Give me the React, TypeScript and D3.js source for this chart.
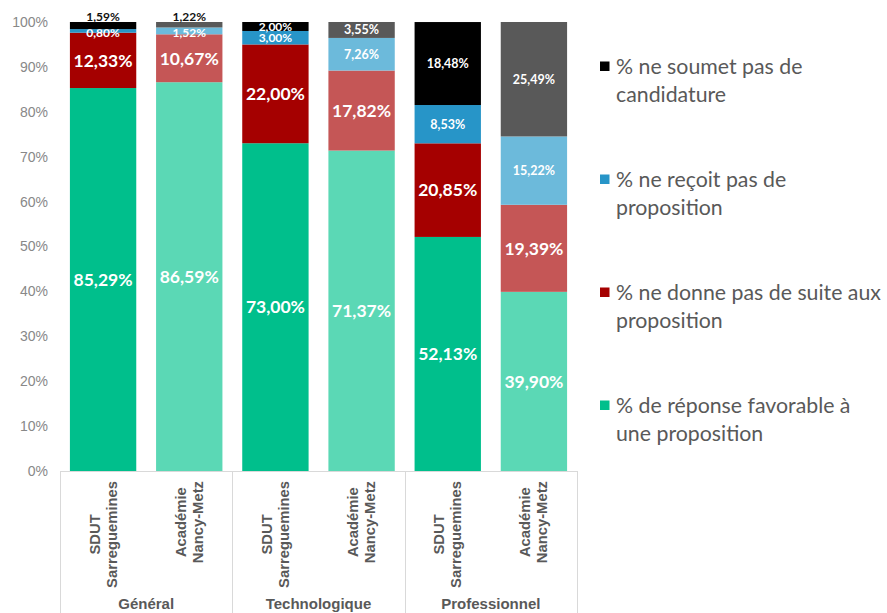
import React, { useRef, useEffect } from 'react';
import * as d3 from 'd3';

// Data (percentages)
const groups = ['Général', 'Technologique', 'Professionnel'];
const entities = [['SDUT', 'Sarreguemines'], ['Académie', 'Nancy-Metz']];
const favorable = [85.29, 86.59, 73.0, 71.37, 52.13, 39.9];
const noSuite = [12.33, 10.67, 22.0, 17.82, 20.85, 19.39];
const noProposition = [0.8, 1.52, 3.0, 7.26, 8.53, 15.22];
const noCandidature = [1.59, 1.22, 2.0, 3.55, 18.48, 25.49];
const seriesNames = [
  ['% de réponse favorable à', 'une proposition'],
  ['% ne donne pas de suite aux', 'proposition'],
  ['% ne reçoit pas de', 'proposition'],
  ['% ne soumet pas de', 'candidature'],
];
const yTicks = [0, 10, 20, 30, 40, 50, 60, 70, 80, 90, 100];

// colours: [SDUT, Académie] per series
const colors = [
  ['#00bf8c', '#5bd8b5'],
  ['#a50000', '#c55656'],
  ['#2795c8', '#6cbadb'],
  ['#000000', '#595959'],
];

const W = 887;
const H = 613;

const App: React.FC = () => {
  const svgRef = useRef<SVGSVGElement | null>(null);

  useEffect(() => {
    const svg = d3.select(svgRef.current);
    svg.selectAll('*').remove();

    const bars = d3.range(favorable.length);
    const rows = bars.map(i => ({
      i,
      s0: favorable[i],
      s1: noSuite[i],
      s2: noProposition[i],
      s3: noCandidature[i],
    }));
    const stack = d3.stack<any>().keys(['s0', 's1', 's2', 's3']);
    const stacked = stack(rows);

    const x = d3.scaleBand<number>().domain(bars).range([60, 577]).paddingInner(0.23).paddingOuter(0.115);
    const y = d3.scaleLinear().domain([0, 100]).range([471, 22]).clamp(true);
    const fmt = (v: number) => d3.format('.2f')(v).replace('.', ',') + '%';

    // y axis labels
    const yAxis = d3.axisLeft(y).tickValues(yTicks).tickSize(0).tickPadding(12).tickFormat(d => `${d}%`);
    const ya = svg.append('g').attr('transform', 'translate(60,0)').call(yAxis);
    ya.select('.domain').remove();
    ya.selectAll('text')
      .attr('font-family', '"Liberation Sans", Arial, sans-serif')
      .attr('font-size', 14)
      .attr('fill', '#888888');

    // bars
    stacked.forEach((layer, si) => {
      const g = svg.append('g');
      g.selectAll('rect')
        .data(layer)
        .enter()
        .append('rect')
        .attr('x', d => x(d.data.i)!)
        .attr('width', x.bandwidth())
        .attr('y', d => y(d[1]))
        .attr('height', d => y(d[0]) - y(d[1]))
        .attr('fill', d => colors[si][d.data.i % 2]);

      g.selectAll('text')
        .data(layer)
        .enter()
        .append('text')
        .attr('x', d => x(d.data.i)! + x.bandwidth() / 2)
        .attr('y', d => {
          const v = d[1] - d[0];
          if (si === 3 && v < 1.7) return y(d[1]) - 5;
          if (si === 2 && v < 2) return (y(d[0]) + y(d[1])) / 2 + 2;
          return (y(d[0]) + y(d[1])) / 2;
        })
        .attr('dy', '0.36em')
        .attr('text-anchor', 'middle')
        .attr('font-family', 'Lato, "Open Sans", sans-serif')
        .attr('font-weight', 'bold')
        .attr('font-size', d => (si < 2 ? 17.5 : d[1] - d[0] < 3.1 ? 12 : 12.5))
        .attr('fill', d => (si === 3 && d[1] - d[0] < 1.7 ? '#111' : '#fff'))
        .text(d => fmt(d[1] - d[0]));
    });

    // category axis baseline and separators
    const step = x.step();
    svg.append('line')
      .attr('x1', 60).attr('x2', 577).attr('y1', 471.5).attr('y2', 471.5)
      .attr('stroke', '#d9d9d9');
    d3.range(groups.length + 1).forEach(g => {
      const gx = Math.round(60 + g * 2 * step) + 0.5;
      svg.append('line')
        .attr('x1', gx).attr('x2', gx).attr('y1', 471).attr('y2', H)
        .attr('stroke', '#d9d9d9');
    });

    // rotated category labels
    bars.forEach(i => {
      const lines = entities[i % 2];
      const cx = x(i)! + x.bandwidth() / 2;
      const g = svg.append('g');
      const texts = lines.map(ln =>
        g.append('text')
          .attr('text-anchor', 'middle')
          .attr('font-family', '"Liberation Sans", Arial, sans-serif')
          .attr('font-weight', 'bold')
          .attr('font-size', 14.8)
          .attr('fill', '#595959')
          .text(ln)
      );
      const maxLen = d3.max(texts, t => (t.node() as SVGTextElement).getComputedTextLength()) || 0;
      const cy = 481 + maxLen / 2;
      texts.forEach((t, li) => {
        const lx = cx + (li - (lines.length - 1) / 2) * 17 + 5;
        t.attr('transform', `translate(${lx},${cy}) rotate(-90)`);
      });
    });

    // group labels
    groups.forEach((gname, g) => {
      svg.append('text')
        .attr('x', 60 + (g * 2 + 1) * step)
        .attr('y', 609)
        .attr('text-anchor', 'middle')
        .attr('font-family', '"Liberation Sans", Arial, sans-serif')
        .attr('font-weight', 'bold')
        .attr('font-size', 15)
        .attr('fill', '#595959')
        .text(gname);
    });

    // legend (top series first)
    const legendOrder = [3, 2, 1, 0];
    legendOrder.forEach((si, k) => {
      const cy = 66 + k * 113;
      const lg = svg.append('g');
      lg.append('rect')
        .attr('x', 600).attr('y', cy - 4.5).attr('width', 9.5).attr('height', 9.5)
        .attr('fill', colors[si][0]);
      seriesNames[si].forEach((ln, li) => {
        lg.append('text')
          .attr('x', 616)
          .attr('y', cy + li * 28.5)
          .attr('dy', '0.36em')
          .attr('font-family', 'Lato, "Open Sans", sans-serif')
          .attr('font-size', 21.3)
          .attr('fill', '#595959')
          .text(ln);
      });
    });
  }, []);

  return (
    <svg
      ref={svgRef}
      width={W}
      height={H}
      style={{ position: 'absolute', left: 0, top: 0, background: '#fff' }}
    />
  );
};

export default App;
